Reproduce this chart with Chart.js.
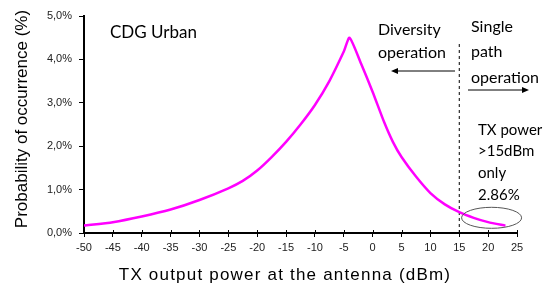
<!DOCTYPE html>
<html>
<head>
<meta charset="utf-8">
<script src="https://cdn.jsdelivr.net/npm/chart.js@4"></script>
<style>
  body { margin: 0; background: #fff; }
</style>
</head>
<body>
<canvas id="grafico" width="551" height="284"></canvas>
<script>
// potência TX (dBm) x probabilidade (%)
const potencia = [-50, -45, -40, -35, -30, -25, -22.5, -20, -17.5, -15, -12.5, -10, -7.5, -5, -4, -2, 0, 2, 3.5, 5, 7.5, 10, 12.5, 15, 17.5, 20, 23];
const probabilidade = [0.17, 0.25, 0.38, 0.54, 0.76, 1.03, 1.2, 1.44, 1.75, 2.1, 2.5, 2.95, 3.5, 4.18, 4.5, 3.9, 3.25, 2.55, 2.1, 1.75, 1.3, 0.92, 0.66, 0.48, 0.35, 0.25, 0.17];

// linha tracejada do limite de 15 dBm
const limiteX = [15, 15];
const limiteY = [0, 4.4];

const textoCaixa = ['TX power', '>15dBm', 'only', '2.86%'];

const fonteTicks = { family: 'Liberation Sans', size: 11 };

// textos, setas e elipse
const anotacoes = {
  id: 'anotacoes',
  afterDraw(chart) {
    const ctx = chart.ctx;
    const sx = chart.scales.x, sy = chart.scales.y;
    ctx.save();
    ctx.fillStyle = '#000';
    ctx.textBaseline = 'middle';

    // títulos dos eixos
    ctx.font = '17px "Liberation Sans"';
    ctx.textAlign = 'center';
    ctx.letterSpacing = '1.2px';
    ctx.fillText('TX output power at the antenna (dBm)', 285, 275);
    ctx.letterSpacing = '0px';
    ctx.save();
    ctx.translate(22, 119);
    ctx.rotate(-Math.PI / 2);
    ctx.font = '17px "Liberation Sans"';
    ctx.fillText('Probability of occurrence (%)', 0, 0);
    ctx.restore();

    ctx.textAlign = 'left';
    ctx.font = '17px Lato';
    ctx.fillText('CDG Urban', 110, 33);

    ctx.font = '16px Lato';
    ctx.fillText('Diversity', 378, 30);
    ctx.fillText('operation', 378, 53);
    ctx.fillText('Single', 471, 27);
    ctx.fillText('path', 471, 52);
    ctx.fillText('operation', 471, 78);

    ctx.font = '15px Lato';
    const yCaixa = [130, 151, 173, 195];
    textoCaixa.forEach((t, i) => ctx.fillText(t, 478, yCaixa[i]));

    // setas
    ctx.strokeStyle = '#000';
    ctx.lineWidth = 1;
    ctx.beginPath();
    ctx.moveTo(455, 71); ctx.lineTo(396, 71);
    ctx.moveTo(468, 90); ctx.lineTo(524, 90);
    ctx.stroke();
    ctx.beginPath();
    ctx.moveTo(391, 71); ctx.lineTo(398, 68); ctx.lineTo(398, 74); ctx.closePath();
    ctx.moveTo(529, 90); ctx.lineTo(522, 87); ctx.lineTo(522, 93); ctx.closePath();
    ctx.fill();

    // elipse ao redor da cauda > 15 dBm
    ctx.strokeStyle = '#555';
    ctx.beginPath();
    ctx.ellipse(sx.getPixelForValue(20.6), sy.getPixelForValue(0.35), 30, 10.5, 0, 0, Math.PI * 2);
    ctx.stroke();

    // marcas internas do eixo x
    ctx.strokeStyle = '#000';
    ctx.beginPath();
    for (let v = -45; v <= 25; v += 5) {
      const px = Math.round(sx.getPixelForValue(v)) + 0.5;
      ctx.moveTo(px, sy.bottom); ctx.lineTo(px, sy.bottom - 3);
    }
    ctx.stroke();
    ctx.restore();
  }
};

new Chart(document.getElementById('grafico'), {
  type: 'line',
  data: {
    datasets: [{
      data: potencia.map((p, i) => ({ x: p, y: probabilidade[i] })),
      borderColor: '#ff00ff',
      borderWidth: 2.5,
      pointRadius: 0,
      tension: 0.2
    }, {
      data: limiteX.map((p, i) => ({ x: p, y: limiteY[i] })),
      borderColor: '#000',
      borderWidth: 1,
      borderDash: [3, 3],
      pointRadius: 0
    }]
  },
  options: {
    responsive: false,
    animation: false,
    devicePixelRatio: 1,
    layout: { padding: { top: 16, right: 34, left: 0, bottom: 0 } },
    plugins: { legend: { display: false }, tooltip: { enabled: false } },
    scales: {
      x: {
        type: 'linear',
        min: -50,
        max: 25,
        afterFit: s => { s.height = 51; },
        ticks: { stepSize: 5, font: fonteTicks, color: '#222', padding: 4, maxRotation: 0 },
        grid: { drawOnChartArea: false, tickLength: 4, color: '#000' },
        border: { color: '#000', width: 2 }
      },
      y: {
        min: 0,
        max: 5,
        afterFit: s => { s.width = 84; },
        ticks: {
          stepSize: 1,
          font: fonteTicks,
          color: '#222',
          padding: 7,
          callback: v => v.toFixed(1).replace('.', ',') + '%'
        },
        grid: { drawOnChartArea: false, tickLength: 5, color: '#000' },
        border: { color: '#000', width: 2 }
      }
    }
  },
  plugins: [anotacoes]
});
</script>
</body>
</html>
